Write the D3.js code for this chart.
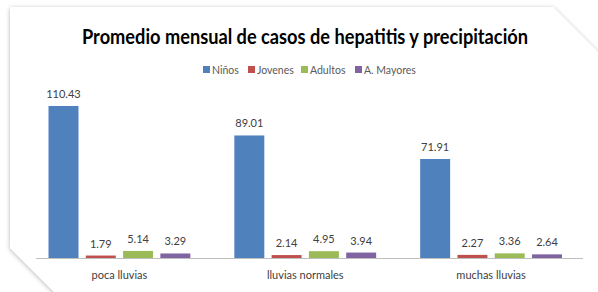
<!DOCTYPE html>
<html>
<head>
<meta charset="utf-8">
<script src="https://cdn.jsdelivr.net/npm/d3@7"></script>
<style>
  body { margin: 0; background: #fff; }
  text { font-family: Lato, "Liberation Sans", sans-serif; }
</style>
</head>
<body>
<div id="chart"></div>
<script>
const width = 598,
    height = 292

// data
var categories = ["poca lluvias", "lluvias normales", "muchas lluvias"]
var seriesNames = ["Niños", "Jovenes", "Adultos", "A. Mayores"]
var ninos = [110.43, 89.01, 71.91]
var jovenes = [1.79, 2.14, 2.27]
var adultos = [5.14, 4.95, 3.36]
var mayores = [3.29, 3.94, 2.64]
var colors = ["#4F81BD", "#C0504D", "#9BBB59", "#8064A2"]

var series = [ninos, jovenes, adultos, mayores]

var svg = d3.select("#chart")
    .append("svg")
    .attr("width", width)
    .attr("height", height)

var defs = svg.append("defs")
var filter = defs.append("filter")
    .attr("id", "shadow")
    .attr("x", "-10%").attr("y", "-10%")
    .attr("width", "120%").attr("height", "120%")
filter.append("feDropShadow")
    .attr("dx", 0).attr("dy", 1)
    .attr("stdDeviation", 2)
    .attr("flood-color", "#000")
    .attr("flood-opacity", 0.3)

// card with the two cut corners
svg.append("path")
    .attr("d", "M10,7 L553,7 L603,57 L603,300 L62,300 L10,248 Z")
    .attr("fill", "#fff")
    .attr("filter", "url(#shadow)")

var x0 = d3.scaleBand()
    .domain(categories)
    .range([26.5, 584])

var x1 = d3.scaleBand()
    .domain(seriesNames)
    .range([0, x0.bandwidth()])
    .paddingInner(0.196)
    .paddingOuter(0.59)

var y = d3.scaleLinear()
    .domain([0, 120])
    .range([258, 92.8])

svg.append("text")
    .attr("x", 305)
    .attr("y", 44)
    .attr("text-anchor", "middle")
    .attr("font-size", 21)
    .attr("font-weight", "bold")
    .attr("fill", "#000")
    .attr("textLength", 446)
    .attr("lengthAdjust", "spacingAndGlyphs")
    .text("Promedio mensual de casos de hepatitis y precipitación")

// legend
var legendX = [203, 248, 301, 355]
var legend = svg.append("g")
    .selectAll("g")
    .data(seriesNames)
    .enter()
    .append("g")
    .attr("transform", (d, i) => `translate(${legendX[i]},66)`)

legend.append("rect")
    .attr("width", 7)
    .attr("height", 7)
    .attr("fill", (d, i) => colors[i])

legend.append("text")
    .attr("x", 9)
    .attr("y", 7.5)
    .attr("font-size", 10.5)
    .attr("fill", "#595959")
    .text(d => d)

var groups = svg.append("g")
    .selectAll("g")
    .data(categories)
    .enter()
    .append("g")
    .attr("transform", d => `translate(${x0(d)},0)`)

groups.selectAll("rect")
    .data((d, ci) => seriesNames.map((s, si) => ({ s: s, i: si, v: series[si][ci] })))
    .enter()
    .append("rect")
    .attr("x", d => x1(d.s))
    .attr("y", d => y(d.v))
    .attr("width", x1.bandwidth())
    .attr("height", d => y(0) - y(d.v))
    .attr("fill", d => colors[d.i])

groups.selectAll("text")
    .data((d, ci) => seriesNames.map((s, si) => ({ s: s, i: si, v: series[si][ci] })))
    .enter()
    .append("text")
    .attr("x", d => x1(d.s) + x1.bandwidth() / 2)
    .attr("y", d => y(d.v) - 8)
    .attr("text-anchor", "middle")
    .attr("font-size", 11)
    .attr("fill", "#404040")
    .text(d => d.v.toFixed(2))

// category axis
svg.append("line")
    .attr("x1", 36)
    .attr("x2", 583)
    .attr("y1", 258.5)
    .attr("y2", 258.5)
    .attr("stroke", "#bfbfbf")
    .attr("stroke-width", 1)

svg.append("g")
    .selectAll("text")
    .data(categories)
    .enter()
    .append("text")
    .attr("x", d => x0(d) + x0.bandwidth() / 2)
    .attr("y", 279)
    .attr("text-anchor", "middle")
    .attr("font-size", 11)
    .attr("fill", "#404040")
    .text(d => d)
</script>
</body>
</html>
